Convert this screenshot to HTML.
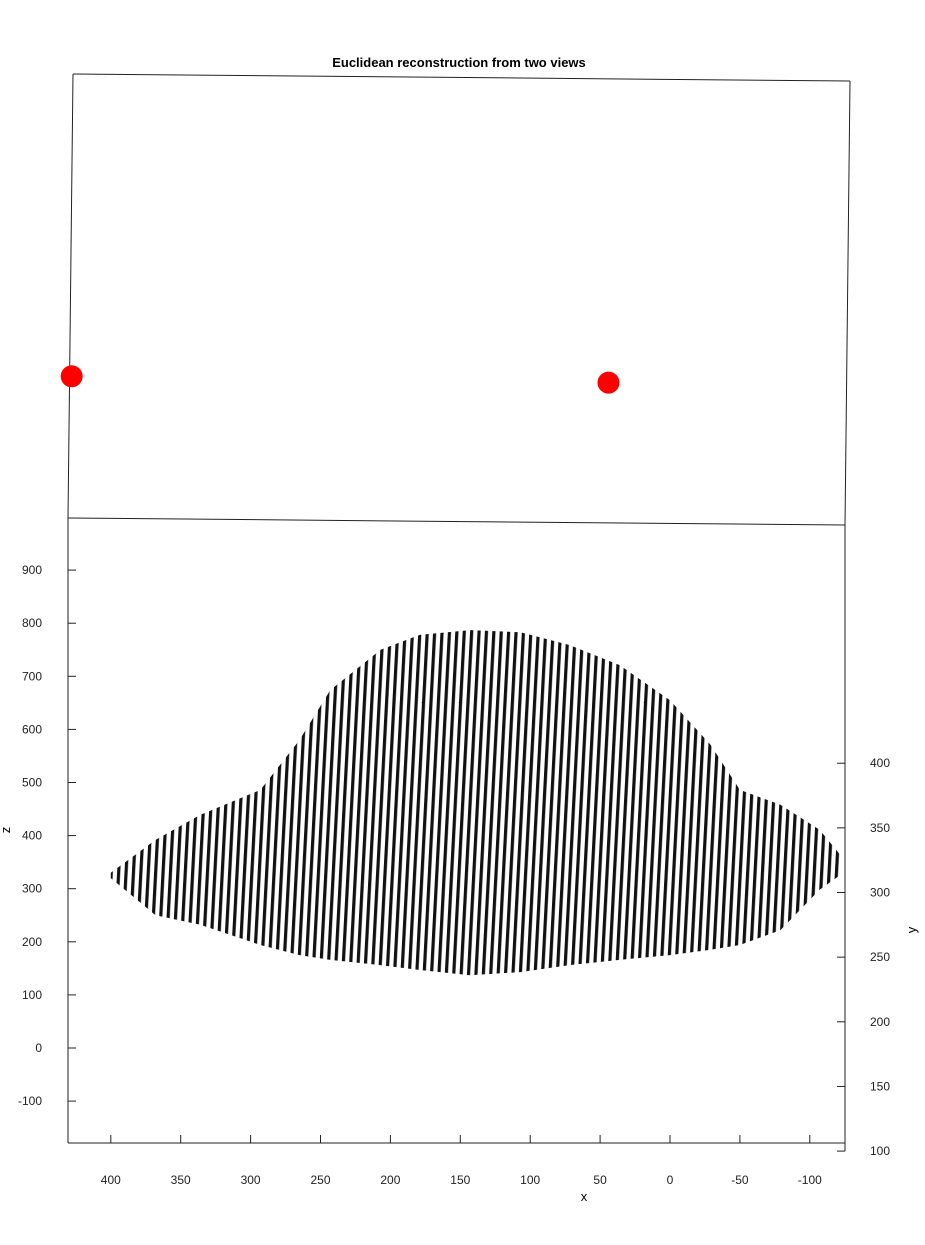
<!DOCTYPE html>
<html><head><meta charset="utf-8"><style>
body{margin:0;background:#fff;}
svg{display:block;font-family:"Liberation Sans",sans-serif;}
</style></head><body>
<svg id="chart" width="925" height="1245" viewBox="0 0 925 1245">
<defs>
<pattern id="stripes" patternUnits="userSpaceOnUse" width="7.4" height="40" patternTransform="skewX(-3)">
<rect x="0" y="0" width="3.2" height="40" fill="#111"/>
</pattern>
</defs>
<text x="459" y="67" text-anchor="middle" font-size="13" font-weight="bold">Euclidean reconstruction from two views</text>
<g id="frame" stroke="#222" stroke-width="1" fill="none">
<line x1="73" y1="74" x2="850" y2="81"/>
<line x1="73" y1="74" x2="68" y2="518"/>
<line x1="850" y1="81" x2="845" y2="525"/>
<line x1="68" y1="518" x2="845" y2="525"/>
<line x1="68" y1="518" x2="68" y2="1143"/>
<line x1="68" y1="1143" x2="845" y2="1143"/>
<line x1="845" y1="525" x2="845" y2="1151"/>
</g>
<g id="cloud"></g>
<g id="zaxis"></g>
<g id="xaxis"></g>
<g id="yaxis"></g>
<text x="584" y="1201" text-anchor="middle" font-size="13">x</text>
<text x="10" y="830" text-anchor="middle" font-size="13" transform="rotate(-90 10 830)">z</text>
<text x="916" y="930" text-anchor="middle" font-size="13" transform="rotate(-90 916 930)">y</text>
<g id="cams"></g>
</svg>
<script>
const zTicks=[900,800,700,600,500,400,300,200,100,0,-100];
const xTicks=[400,350,300,250,200,150,100,50,0,-50,-100];
const yTicks=[400,350,300,250,200,150,100];
const cloudX=[400,368,336,293,265,243,207,179,143,107,72,36,0,-29,-50,-79,-107,-122];
const cloudTopZ=[330,392,439,486,580,674,750,778,787,783,759,721,655,571,486,458,411,363];
const cloudBotZ=[320,250,232,194,175,166,156,147,137,143,156,166,175,185,194,222,298,326];
const camX=[428,44];
const camZ=[1265,1253];

const NS="http://www.w3.org/2000/svg";
const zy=z=>1048-0.531*z;
const xx=x=>670-1.398*x;
const yy=y=>1280.4-1.293*y;
function mk(tag,attrs,parent){const e=document.createElementNS(NS,tag);for(const k in attrs)e.setAttribute(k,attrs[k]);parent.appendChild(e);return e;}
const cloud=document.getElementById('cloud');
let pts=[];
cloudX.forEach((x,i)=>pts.push(xx(x)+','+zy(cloudTopZ[i])));
for(let i=cloudX.length-1;i>=0;i--)pts.push(xx(cloudX[i])+','+zy(cloudBotZ[i]));
const poly=mk('polygon',{points:pts.join(' '),fill:'url(#stripes)'},cloud);



const za=document.getElementById('zaxis');
zTicks.forEach(t=>{const y=zy(t);
 const l=mk('line',{x1:68,x2:76,y1:y,y2:y,stroke:'#222'},za);
 
 const tx=mk('text',{x:42,y:y+4,'text-anchor':'end','font-size':12,fill:'#222'},za);tx.textContent=t;
 });
const xa=document.getElementById('xaxis');
xTicks.forEach(t=>{const x=xx(t);
 const l=mk('line',{x1:x,x2:x,y1:1143,y2:1135,stroke:'#222'},xa);
 
 const tx=mk('text',{x:x,y:1184,'text-anchor':'middle','font-size':12,fill:'#222'},xa);tx.textContent=t;
 });
const ya=document.getElementById('yaxis');
yTicks.forEach(t=>{const y=yy(t);
 const l=mk('line',{x1:845,x2:837,y1:y,y2:y,stroke:'#222'},ya);
 
 const tx=mk('text',{x:870,y:y+4,'text-anchor':'start','font-size':12,fill:'#222'},ya);tx.textContent=t;
 });
const cams=document.getElementById('cams');
camX.forEach((x,i)=>{const c=mk('circle',{cx:xx(x),cy:zy(camZ[i]),r:11,fill:'#ff0000'},cams);
 });
</script>
</body></html>
